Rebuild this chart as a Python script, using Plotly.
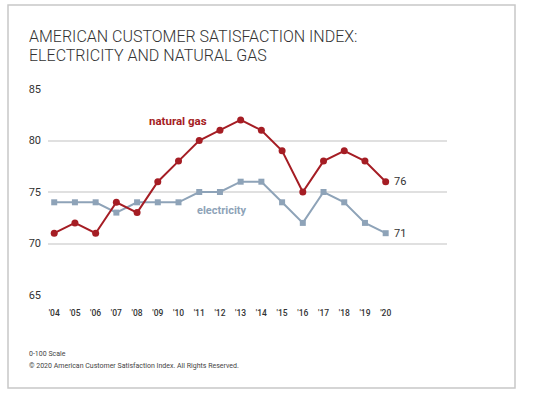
import plotly.graph_objects as go

years = ["'04", "'05", "'06", "'07", "'08", "'09", "'10", "'11", "'12", "'13",
         "'14", "'15", "'16", "'17", "'18", "'19", "'20"]
natural_gas = [71, 72, 71, 74, 73, 76, 78, 80, 81, 82, 81, 79, 75, 78, 79, 78, 76]
electricity = [74, 74, 74, 73, 74, 74, 74, 75, 75, 76, 76, 74, 72, 75, 74, 72, 71]
y_ticks = [65, 70, 75, 80, 85]

RED = "#a51d24"
BLUE = "#8ea3b8"
idx = list(range(len(years)))

fig = go.Figure()
fig.add_trace(go.Scatter(x=idx, y=electricity, mode="lines+markers",
                         line=dict(color=BLUE, width=2),
                         marker=dict(symbol="square", size=6, color=BLUE),
                         showlegend=False, hoverinfo="skip"))
fig.add_trace(go.Scatter(x=idx, y=natural_gas, mode="lines+markers",
                         line=dict(color=RED, width=2),
                         marker=dict(symbol="circle", size=7, color=RED),
                         showlegend=False, hoverinfo="skip"))

W, H = 550, 396
L, R, T, B = 48, 447, 89, 295
pw, ph = R - L, B - T

def px(xp):
    return (xp - L) / pw

def py(yp):
    return (B - yp) / ph

FONT = "Roboto"

annotations = [
    dict(x=px(27), y=py(37), xref="paper", yref="paper", xanchor="left", yanchor="middle",
         text="AMERICAN CUSTOMER SATISFACTION INDEX:", showarrow=False,
         font=dict(family=FONT, size=16, color="#333333", weight=300)),
    dict(x=px(27), y=py(55), xref="paper", yref="paper", xanchor="left", yanchor="middle",
         text="ELECTRICITY AND NATURAL GAS", showarrow=False,
         font=dict(family=FONT, size=16, color="#333333", weight=300)),
    dict(x=px(27), y=py(354), xref="paper", yref="paper", xanchor="left", yanchor="middle",
         text="0-100 Scale", showarrow=False,
         font=dict(family=FONT, size=7, color="#444444")),
    dict(x=px(27), y=py(366), xref="paper", yref="paper", xanchor="left", yanchor="middle",
         text="© 2020 American Customer Satisfaction Index. All Rights Reserved.", showarrow=False,
         font=dict(family=FONT, size=7, color="#444444")),
    dict(x=5.98, y=81.9, xref="x", yref="y", xanchor="center", yanchor="middle",
         text="<b>natural gas</b>", showarrow=False,
         font=dict(family=FONT, size=11.5, color=RED)),
    dict(x=8.1, y=73.25, xref="x", yref="y", xanchor="center", yanchor="middle",
         text="<b>electricity</b>", showarrow=False,
         font=dict(family=FONT, size=11, color=BLUE)),
    dict(x=16, y=natural_gas[-1], xref="x", yref="y", xanchor="left", yanchor="middle",
         xshift=6, text=str(natural_gas[-1]), showarrow=False,
         font=dict(family=FONT, size=11, color="#333333")),
    dict(x=16, y=electricity[-1], xref="x", yref="y", xanchor="left", yanchor="middle",
         xshift=6, text=str(electricity[-1]), showarrow=False,
         font=dict(family=FONT, size=11, color="#333333")),
]

fig.update_layout(
    width=W, height=H,
    margin=dict(l=L, r=W - R, t=T, b=H - B),
    paper_bgcolor="white", plot_bgcolor="white",
    annotations=annotations,
    shapes=[dict(type="rect", xref="paper", yref="paper",
                 x0=px(8), x1=px(515), y0=py(5), y1=py(388),
                 line=dict(color="#c8c8c8", width=1.5), layer="below")],
    xaxis=dict(range=[-0.3, 18.96], tickvals=idx, ticktext=years,
               showgrid=False, zeroline=False, showline=False, ticks="",
               ticklabelstandoff=11,
               tickfont=dict(family=FONT, size=8.5, color="#333333", weight=500),
               fixedrange=True),
    yaxis=dict(range=[65, 85], tickvals=y_ticks, showgrid=True,
               gridcolor="#e0e0e0", gridwidth=1.5, zeroline=False, showline=False,
               ticks="", ticklabelstandoff=6,
               tickfont=dict(family=FONT, size=11, color="#333333"),
               fixedrange=True),
)

fig.write_html("out.html", config={"displayModeBar": False},
               post_script="document.body.style.margin='0';document.body.style.padding='0';")
